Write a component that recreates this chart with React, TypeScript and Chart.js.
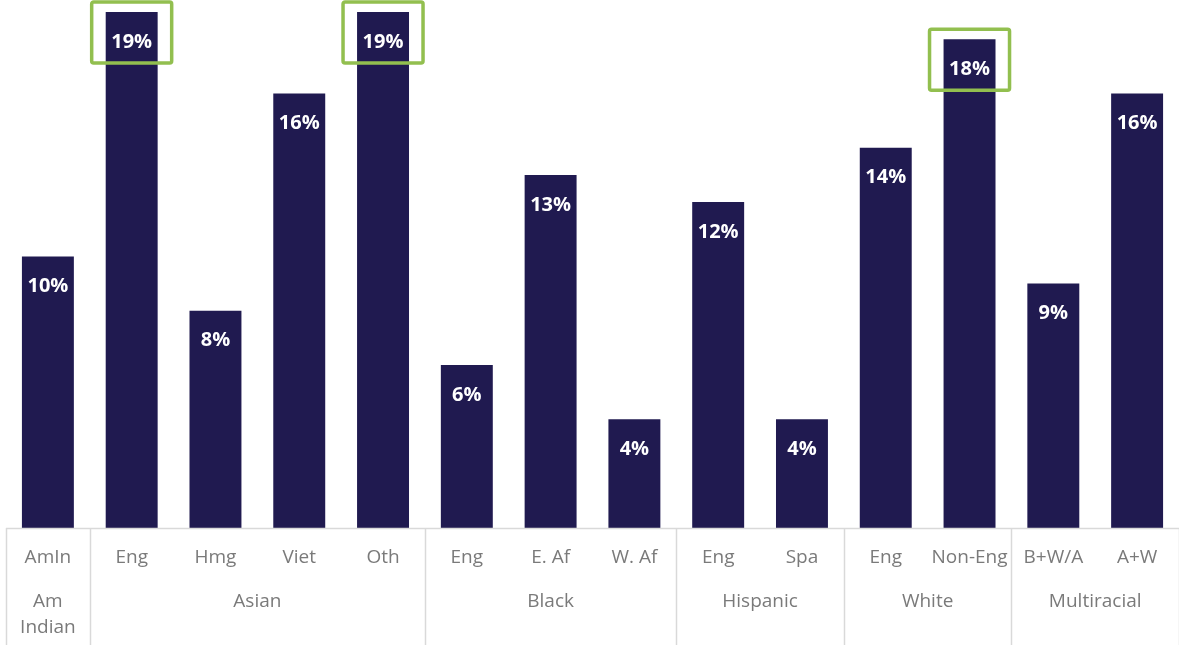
import React, { useEffect, useRef } from "react";
import { Chart, registerables } from "chart.js";

Chart.register(...registerables);

const categories = ["AmIn", "Eng", "Hmg", "Viet", "Oth", "Eng", "E. Af", "W. Af", "Eng", "Spa", "Eng", "Non-Eng", "B+W/A", "A+W"];
const values = [10, 19, 8, 16, 19, 6, 13, 4, 12, 4, 14, 18, 9, 16];
const groupLabels = [["Am", "Indian"], ["Asian"], ["Black"], ["Hispanic"], ["White"], ["Multiracial"]];
const groupStarts = [0, 1, 5, 8, 10, 12];
const groupEnds = [0, 4, 7, 9, 11, 13];
const highlighted = [1, 4, 11];

const BAR = "#201a50";
const GRID = "#d9d9d9";
const TEXT = "#7a7a7a";
const GREEN = "#92bf4f";
const FONT = "'Open Sans', 'Noto Sans', sans-serif";

const overlay = {
  id: "overlay",
  afterDatasetsDraw(chart: any) {
    const { ctx, chartArea } = chart;
    const x = chart.scales.x;
    const meta = chart.getDatasetMeta(0);
    const step = x.getPixelForValue(1) - x.getPixelForValue(0);
    const bottom = chartArea.bottom;
    const H = chart.height;
    ctx.save();
    // axis line
    ctx.strokeStyle = GRID;
    ctx.lineWidth = 1.5;
    ctx.beginPath();
    ctx.moveTo(chartArea.left, bottom + 0.5);
    ctx.lineTo(chartArea.right, bottom + 0.5);
    ctx.stroke();
    // group separators
    const seps: number[] = [groupStarts[0]];
    groupEnds.forEach((e) => seps.push(e + 1));
    seps.forEach((i) => {
      const px = Math.round(x.getPixelForValue(i) - step / 2) + 0.5;
      ctx.beginPath();
      ctx.moveTo(px, bottom);
      ctx.lineTo(px, H);
      ctx.stroke();
    });
    // group labels
    ctx.fillStyle = TEXT;
    ctx.font = `19px ${FONT}`;
    ctx.textAlign = "center";
    ctx.textBaseline = "middle";
    groupLabels.forEach((lines, g) => {
      const cx = (x.getPixelForValue(groupStarts[g]) + x.getPixelForValue(groupEnds[g])) / 2;
      lines.forEach((t, k) => ctx.fillText(t, cx, bottom + 74 + k * 26));
    });
    // value labels
    ctx.fillStyle = "#ffffff";
    ctx.font = `bold 20px ${FONT}`;
    meta.data.forEach((bar: any, i: number) => {
      ctx.fillText(values[i] + "%", bar.x, bar.y + 30);
    });
    // highlight boxes
    ctx.strokeStyle = GREEN;
    ctx.lineWidth = 3.5;
    highlighted.forEach((i) => {
      const bar: any = meta.data[i];
      const w = 80, h = 61;
      const l = bar.x - w / 2, t = bar.y - 10;
      ctx.beginPath();
      (ctx as any).roundRect ? (ctx as any).roundRect(l, t, w, h, 2) : ctx.rect(l, t, w, h);
      ctx.stroke();
    });
    ctx.restore();
  },
};

export default function App() {
  const ref = useRef<HTMLCanvasElement | null>(null);
  useEffect(() => {
    document.body.style.margin = "0";
    const chart = new Chart(ref.current as HTMLCanvasElement, {
      type: "bar",
      data: {
        labels: categories,
        datasets: [
          {
            data: values,
            backgroundColor: BAR,
            barPercentage: 0.62,
            categoryPercentage: 1,
          },
        ],
      },
      options: {
        animation: false,
        responsive: false,
        maintainAspectRatio: false,
        layout: { padding: { left: 6, right: 0, top: 12, bottom: 0 } },
        plugins: { legend: { display: false }, tooltip: { enabled: false } },
        scales: {
          x: {
            grid: { display: false, drawTicks: false },
            border: { display: false },
            ticks: {
              color: TEXT,
              font: { family: FONT, size: 19 },
              padding: 18,
              maxRotation: 0,
              autoSkip: false,
            },
            afterFit(scale: any) {
              scale.height = 117;
            },
          },
          y: {
            display: false,
            min: 0,
            max: 19,
          },
        },
      },
      plugins: [overlay],
    });
    return () => chart.destroy();
  }, []);
  return (
    <div style={{ position: "absolute", left: 0, top: 0, width: 1179, height: 645, background: "#fff" }}>
      <canvas ref={ref} width={1179} height={645} style={{ width: 1179, height: 645 }} />
    </div>
  );
}
